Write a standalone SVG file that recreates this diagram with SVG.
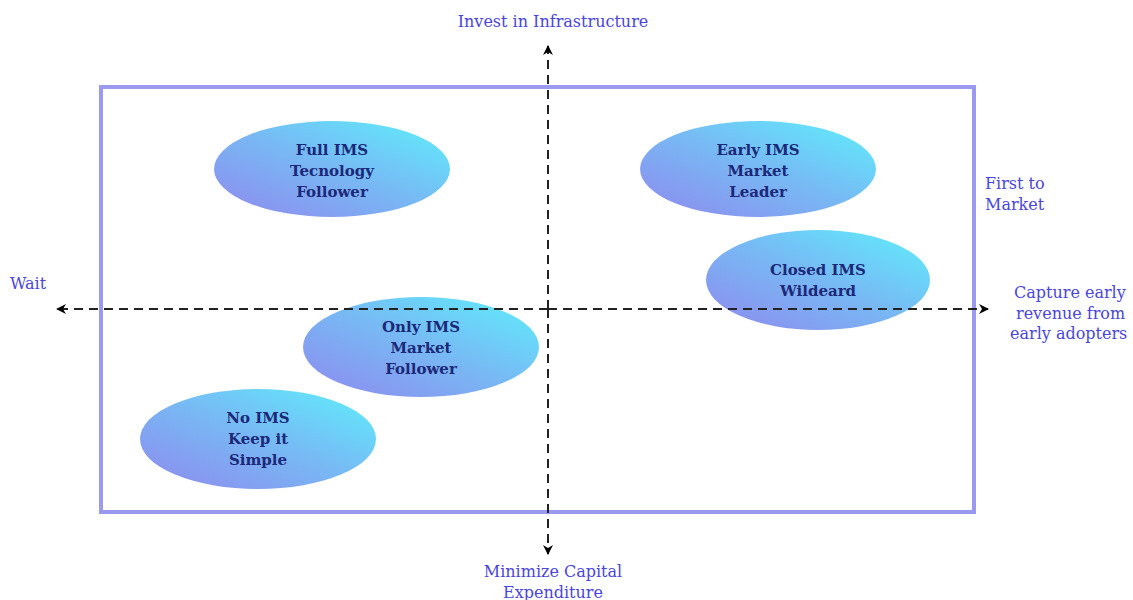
<svg xmlns="http://www.w3.org/2000/svg" width="1133" height="600" viewBox="0 0 1133 600">
<defs>
<linearGradient id="g" x1="0" y1="1" x2="1" y2="0">
<stop offset="0" stop-color="#8f88ee"/>
<stop offset="0.5" stop-color="#78b8f4"/>
<stop offset="1" stop-color="#5ef0fc"/>
</linearGradient>
<marker id="ah" viewBox="0 0 10 10" refX="9" refY="5" markerWidth="10" markerHeight="10" markerUnits="userSpaceOnUse" orient="auto">
<path d="M0,0 L10,5 L0,10 L3,5 Z" fill="#000"/>
</marker>
<style>
.node ellipse{fill:url(#g);}
.nt{font-family:"DejaVu Serif","Liberation Serif",serif;font-size:15px;font-weight:bold;fill:#1c2878;text-anchor:middle;}
.al{font-family:"DejaVu Serif","Liberation Serif",serif;font-size:16px;fill:#4a45dc;}
.ax{stroke:#222;stroke-width:2;stroke-dasharray:9,6;fill:none;marker-end:url(#ah);}
</style>
</defs>
<rect width="1133" height="600" fill="#fff"/>
<rect x="101" y="87" width="873" height="425" fill="none" stroke="#9a9af0" stroke-width="4"/>
<g id="n1" class="node"><ellipse cx="332" cy="169" rx="118" ry="48"/>
<text class="nt" x="332" y="155">Full IMS</text><text class="nt" x="332" y="176">Tecnology</text><text class="nt" x="332" y="197">Follower</text></g>
<g id="n2" class="node"><ellipse cx="758" cy="169" rx="118" ry="48"/>
<text class="nt" x="758" y="155">Early IMS</text><text class="nt" x="758" y="176">Market</text><text class="nt" x="758" y="197">Leader</text></g>
<g id="n3" class="node"><ellipse cx="818" cy="280" rx="112" ry="50"/>
<text class="nt" x="818" y="275">Closed IMS</text><text class="nt" x="818" y="296">Wildeard</text></g>
<g id="n4" class="node"><ellipse cx="421" cy="347" rx="118" ry="50"/>
<text class="nt" x="421" y="332">Only IMS</text><text class="nt" x="421" y="353">Market</text><text class="nt" x="421" y="374">Follower</text></g>
<g id="n5" class="node"><ellipse cx="258" cy="439" rx="118" ry="50"/>
<text class="nt" x="258" y="423">No IMS</text><text class="nt" x="258" y="444">Keep it</text><text class="nt" x="258" y="465">Simple</text></g>
<g id="connectors">
<line class="ax" x1="548" y1="309" x2="548" y2="46"/>
<line class="ax" x1="548" y1="309" x2="548" y2="554"/>
<line class="ax" x1="548" y1="309" x2="57" y2="309"/>
<line class="ax" x1="548" y1="309" x2="988" y2="309"/>
</g>
<g id="labels">
<text class="al" x="553" y="27" text-anchor="middle">Invest in Infrastructure</text>
<text class="al" x="553" y="577" text-anchor="middle">Minimize Capital</text>
<text class="al" x="553" y="598" text-anchor="middle">Expenditure</text>
<text class="al" x="10" y="289">Wait</text>
<text class="al" x="985" y="189">First to</text>
<text class="al" x="985" y="210">Market</text>
<text class="al" x="1014" y="298">Capture early</text>
<text class="al" x="1016" y="319">revenue from</text>
<text class="al" x="1010" y="339">early adopters</text>
</g>
</svg>
